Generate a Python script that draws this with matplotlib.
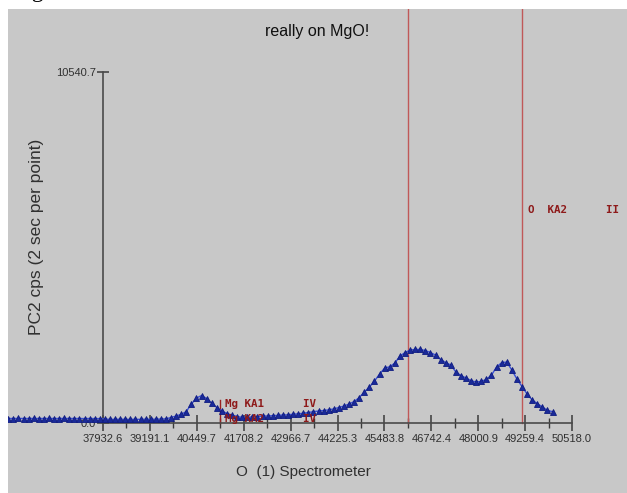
import numpy as np
import matplotlib.pyplot as plt
from matplotlib.patches import Rectangle

# spectrometer scan, uniform step
x_start = 35390.0
x_step = 136.5
cps = [135, 135, 138, 135, 135, 138, 135, 135, 138, 135,
       135, 138, 135, 135, 135, 132, 135, 132, 132, 120,
       110, 110, 115, 110, 110, 112, 110, 115, 112, 115,
       120, 125, 165, 210, 260, 345, 570, 750, 825, 735,
       600, 465, 360, 285, 240, 195, 170, 170, 185, 195,
       210, 210, 220, 230, 240, 245, 265, 275, 295, 315,
       340, 360, 375, 395, 425, 465, 510, 570, 645, 765,
       930, 1080, 1260, 1470, 1650, 1690, 1800, 2010, 2115, 2190,
       2210, 2210, 2175, 2115, 2040, 1905, 1815, 1740, 1530, 1425,
       1350, 1270, 1230, 1250, 1310, 1440, 1680, 1815, 1830, 1590,
       1320, 1095, 870, 690, 585, 480, 380, 340]
x_scan = x_start + x_step * np.arange(len(cps))

x_ticks = [37932.6, 39191.1, 40449.7, 41708.2, 42966.7, 44225.3,
           45483.8, 46742.4, 48000.9, 49259.4, 50518.0]
y_top = 10540.7
marker_lines = [46130.0, 49189.0]
mg_line = 41072.0

# pixel layout of the original screen grab
W, H = 627, 493
px_x0, px_x1 = 103, 572
px_y0, px_y1 = 423, 72
ux = (x_ticks[-1] - x_ticks[0]) / (px_x1 - px_x0)
uy = y_top / (px_y0 - px_y1)

plt.rcParams['font.family'] = ['Liberation Sans Narrow', 'Liberation Sans', 'DejaVu Sans']
fig = plt.figure(figsize=(W / 100, H / 100), dpi=100)
fig.patch.set_facecolor('white')
ax = fig.add_axes([8 / W, 0, 1 - 8 / W, 1 - 9 / H])
bg = '#c8c8c8'
ax.set_facecolor(bg)
ax.set_xlim(x_ticks[0] - (px_x0 - 8) * ux, x_ticks[0] + (W - px_x0) * ux)
ax.set_ylim(-(H - px_y0) * uy, (px_y0 - 9) * uy)

for s in ['top', 'right']:
    ax.spines[s].set_visible(False)
ax.spines['left'].set_position(('data', x_ticks[0]))
ax.spines['left'].set_bounds(0, y_top)
ax.spines['bottom'].set_position(('data', 0))
ax.spines['bottom'].set_bounds(x_ticks[0], x_ticks[-1])
for s in ['left', 'bottom']:
    ax.spines[s].set_color('#4a4a4a')
    ax.spines[s].set_linewidth(1.2)

ax.set_xticks(x_ticks)
ax.set_xticklabels([f'{v:.1f}' for v in x_ticks])
ax.set_xticks([(a + b) / 2 for a, b in zip(x_ticks[:-1], x_ticks[1:])], minor=True)
ax.set_yticks([0, y_top])
ax.set_yticklabels(['0.0', f'{y_top:.1f}'])
ax.tick_params(axis='x', which='major', direction='inout', length=12, width=1.1,
               color='#3a3a3a', labelsize=8, labelcolor='#303030', pad=2)
ax.tick_params(axis='x', which='minor', direction='inout', length=7, width=1.0, color='#3a3a3a')
ax.tick_params(axis='y', direction='inout', length=8, width=1.1, color='#3a3a3a',
               labelsize=8, labelcolor='#303030', pad=1)

ax.plot(x_scan, cps, color='#3a50d8', lw=1.0, marker='^', ms=4.2,
        mfc='#1a2a9a', mec='#101c80', mew=0.6, zorder=3)

for xv in marker_lines:
    ax.plot([xv, xv], [0, ax.get_ylim()[1]], color='#c05858', lw=1.0, zorder=2)
ax.plot([mg_line, mg_line], [0, 23 * uy], color='#9a2020', lw=1.0, zorder=2)

lab = dict(family=['DejaVu Sans Mono'], fontsize=7.8, fontweight='bold', color='#8e1a1a', va='center')
ax.text(mg_line + 5 * ux, (px_y0 - 404) * uy, 'Mg KA1      IV', **lab)
ax.text(mg_line + 5 * ux, (px_y0 - 419) * uy, 'Mg KA2      IV', zorder=4, **lab)
ax.text(marker_lines[1] + 6 * ux, (px_y0 - 210) * uy, 'O  KA2      II', **lab)

ax.set_title('really on MgO!', fontsize=11.5, color='#101010', y=1 - 31 / (H - 9), va='center')
ax.text(x_ticks[0] - 66 * ux, (px_y0 - 237) * uy, 'PC2 cps (2 sec per point)', rotation=90,
        fontsize=12.5, color='#303030', ha='center', va='center')
ax.text(x_ticks[0] + 200 * ux, -(472 - px_y0) * uy, 'O  (1) Spectrometer', fontsize=11,
        color='#303030', ha='center', va='center')

# white frame of the grab
fig.patches.append(Rectangle((0, 1 - 9 / H), 1, 9 / H, transform=fig.transFigure,
                             facecolor='white', edgecolor='none', zorder=5))
fig.text(12 / W, 1 + 3 / H, 'Figure', family='Liberation Serif', fontsize=17, va='baseline', zorder=6)

fig.savefig('out.png', dpi=100, facecolor='white')
